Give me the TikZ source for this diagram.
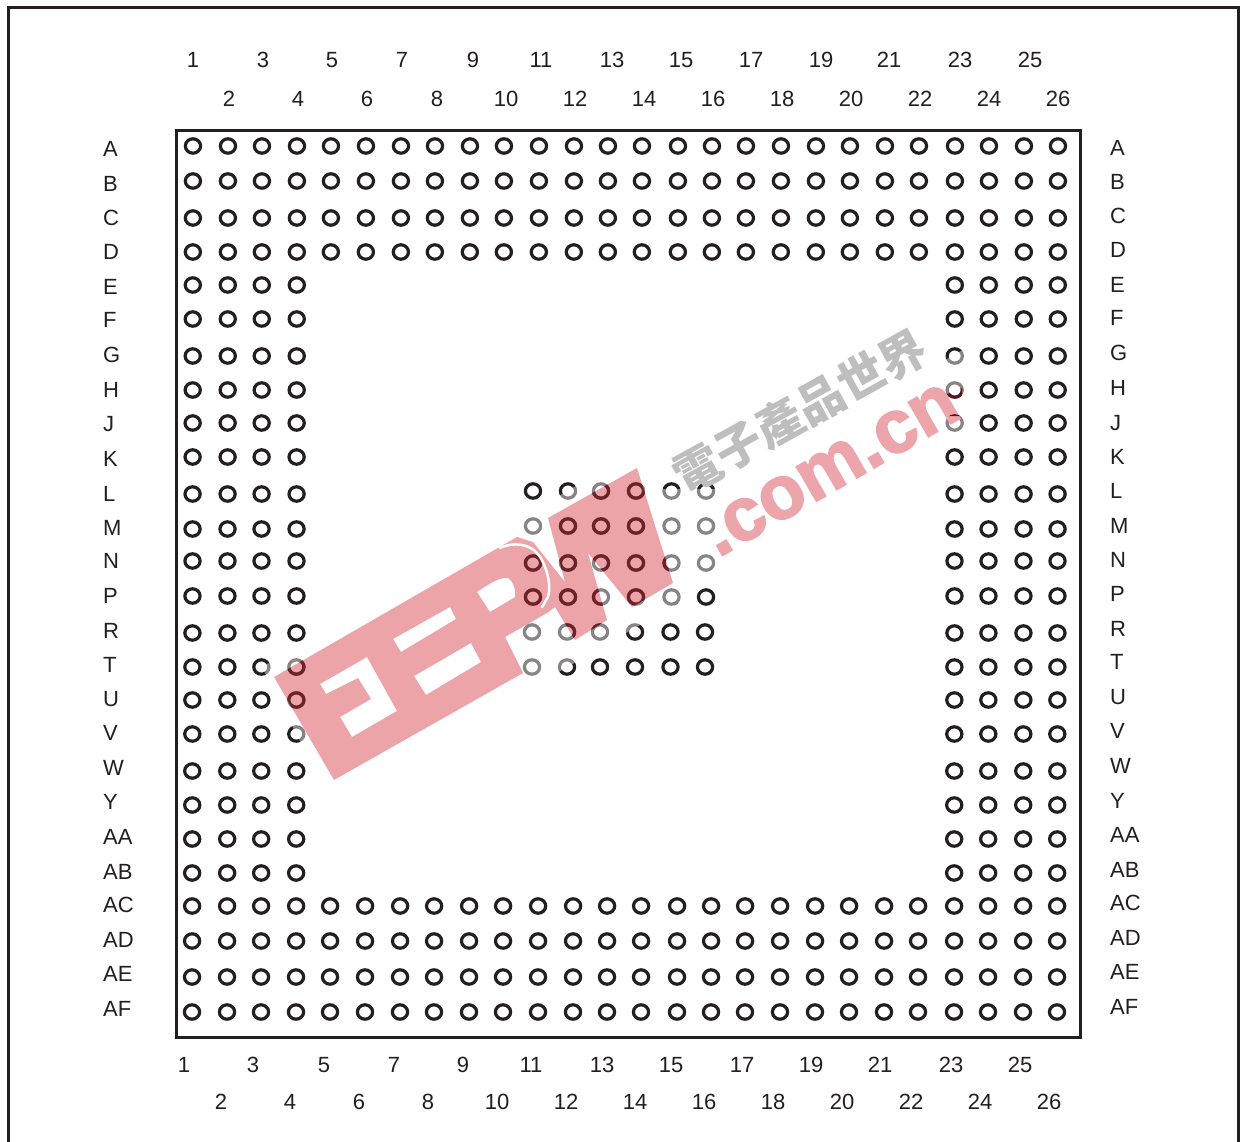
\documentclass[tikz,border=0pt]{standalone}
\usepackage{fontspec}
\setmainfont{Liberation Sans}
\newfontfamily\cjkwm{Noto Sans CJK SC}
\newfontfamily\wmlatin[FakeBold=2.5]{Liberation Sans Bold}
\definecolor{ink}{RGB}{35,31,32}
\definecolor{wmred}{RGB}{210,40,52}
\definecolor{wmpink}{RGB}{236,165,170}
\definecolor{wmdark}{RGB}{95,20,28}
\definecolor{wmgray}{RGB}{190,190,190}
\tikzset{
  lab/.style={text=ink,inner sep=0pt,font=\fontsize{22}{24}\selectfont},
  frameline/.style={draw=ink,line width=3pt},
}
\newcommand{\pinring}[2]{\draw[draw=ink,line width=3.2pt] (#1,#2) ellipse [x radius=7.6,y radius=7.2];}
\newcommand{\allpins}{%
  \foreach \py [count=\r] in {146,181,218,252,285,319,356,390,423,457,494,529,561,596,633,667,700,734,771,805,839,873,906,941,977,1012}{%
    \foreach \px [count=\c] in {193,228,262,297,331,366,401,435,470,504,539,574,608,642,678,712,746,781,816,850,885,919,955,989,1024,1058}{%
      \pgfmathtruncatemacro{\keep}{(\r<5 || \r>22 || \c<5 || \c>22) ? 1 : 0}%
      \ifnum\keep=1
        \pgfmathsetmacro{\qx}{\px-\r/26}%
        \pinring{\qx}{\py}%
      \fi
    }%
  }%
  \foreach \py/\sh in {491/0,526/0,563/0,597/0,632/1,667/1}{%
    \foreach \px in {533,568,601,636,671.5,706}{%
      \pgfmathsetmacro{\qx}{\px-\sh}%
      \pinring{\qx}{\py}%
    }%
  }%
}
\newcommand{\wmouter}{(274,677) -- (517,537) -- (533,542) -- (565,582) -- (548,518) -- (637,468) -- (673,583) -- (632,607) -- (588,553) -- (607,620) -- (575,640) -- (555,607) -- (547,613) -- (505,637) -- (523,673) -- (334,780) -- cycle}
\newcommand{\wmholes}{(393,639) -- (450,607) -- (456,619) -- (401,652) -- cycle
  (414,676) -- (471,643) -- (481,662) -- (426,695) -- cycle
  (320,684) -- (367,657) -- (397,711) -- (352,737) -- (340,717) -- (371,699) -- (358,678) -- (326,694) -- cycle
  (477,592) .. controls (490,583) and (500,577) .. (508,578) .. controls (514,582) and (516,590) .. (515,597) -- (490,612) -- cycle}
\begin{document}
\begin{tikzpicture}[x=1pt,y=-1pt]
\useasboundingbox (0,0) rectangle (1240,1142);
\fill[white] (0,0) rectangle (1240,1142);
% outer frame, open at the page bottom
\draw[frameline] (8.5,1143) -- (8.5,7.5) -- (1238.5,7.5) -- (1238.5,1143);
% package outline
\draw[frameline] (176,130.5) rectangle (1080.5,1037);
% column numbers
\foreach \t/\x in {1/193,3/263,5/332,7/402,9/473,11/541,13/612,15/681,17/751,19/821,21/889,23/960,25/1030}
  \node[lab] (topc\t) at (\x,60) {\t};
\foreach \t/\x in {2/229,4/298,6/367,8/437,10/506,12/575,14/644,16/713,18/782,20/851,22/920,24/989,26/1058}
  \node[lab] (topc\t) at (\x,98.5) {\t};
\foreach \t/\x in {1/184,3/253,5/324,7/394,9/463,11/531,13/602,15/671,17/742,19/811,21/880,23/951,25/1020}
  \node[lab] (botc\t) at (\x,1065) {\t};
\foreach \t/\x in {2/221,4/290,6/359,8/428,10/497,12/566,14/635,16/704,18/773,20/842,22/911,24/980,26/1049}
  \node[lab] (botc\t) at (\x,1102) {\t};
% row letters
\foreach \t/\y in {A/149,B/184,C/218,D/252,E/287,F/320,G/355,H/390,J/424,K/459,L/494,M/528,N/561,P/596,R/631,T/665,U/699,V/733,W/768,Y/802,AA/837,AB/872,AC/905,AD/940,AE/974,AF/1009}
  \node[lab,anchor=west] (left\t) at (103,\y) {\t};
\foreach \t/\y in {A/148,B/182,C/216,D/250,E/285,F/318,G/353,H/388,J/423,K/457,L/491,M/526,N/560,P/594,R/629,T/662,U/697,V/731,W/766,Y/801,AA/835,AB/870,AC/903,AD/938,AE/972,AF/1007}
  \node[lab,anchor=west] (right\t) at (1110,\y) {\t};
% pins
\allpins
% watermark haze
\fill[white,opacity=.45] (262,667) -- (640,449) -- (652,489) -- (720,489) -- (966,348) -- (975,400) -- (972,427) -- (725,568) -- (706,587) -- (505,703) -- (325,790) -- cycle;
% pins seen through the letters keep their full strength
\begin{scope}
  \clip \wmouter;
  \allpins
\end{scope}
% watermark letters
\fill[wmred,opacity=.42,even odd rule] \wmouter \wmholes;
\draw[white,line width=2.5pt,line cap=round] (500,548) .. controls (515,541) and (530,545) .. (537,553) .. controls (546,563) and (552,585) .. (548,597) -- (542,607);
\node[anchor=base west,rotate=30,inner sep=0pt,text=wmpink,font=\fontsize{75}{75}\selectfont\wmlatin] (wmcom) at (718,558) {.com.cn};
% the stem of the n crosses the pins in rows H and J
\begin{scope}
  \clip (942,396) -- (962,388) -- (962,416) -- (946,416) -- cycle;
  \draw[draw=wmdark,line width=3.2pt] (954.8,390) ellipse [x radius=7.6,y radius=7.2];
  \draw[draw=wmdark,line width=3.2pt] (954.6,423) ellipse [x radius=7.6,y radius=7.2];
\end{scope}
\node[rotate=29,inner sep=0pt,text=wmgray,font=\fontsize{47}{47}\selectfont\bfseries\cjkwm] (wmcn) at (800,411) {電子產品世界};
\end{tikzpicture}
\end{document}
